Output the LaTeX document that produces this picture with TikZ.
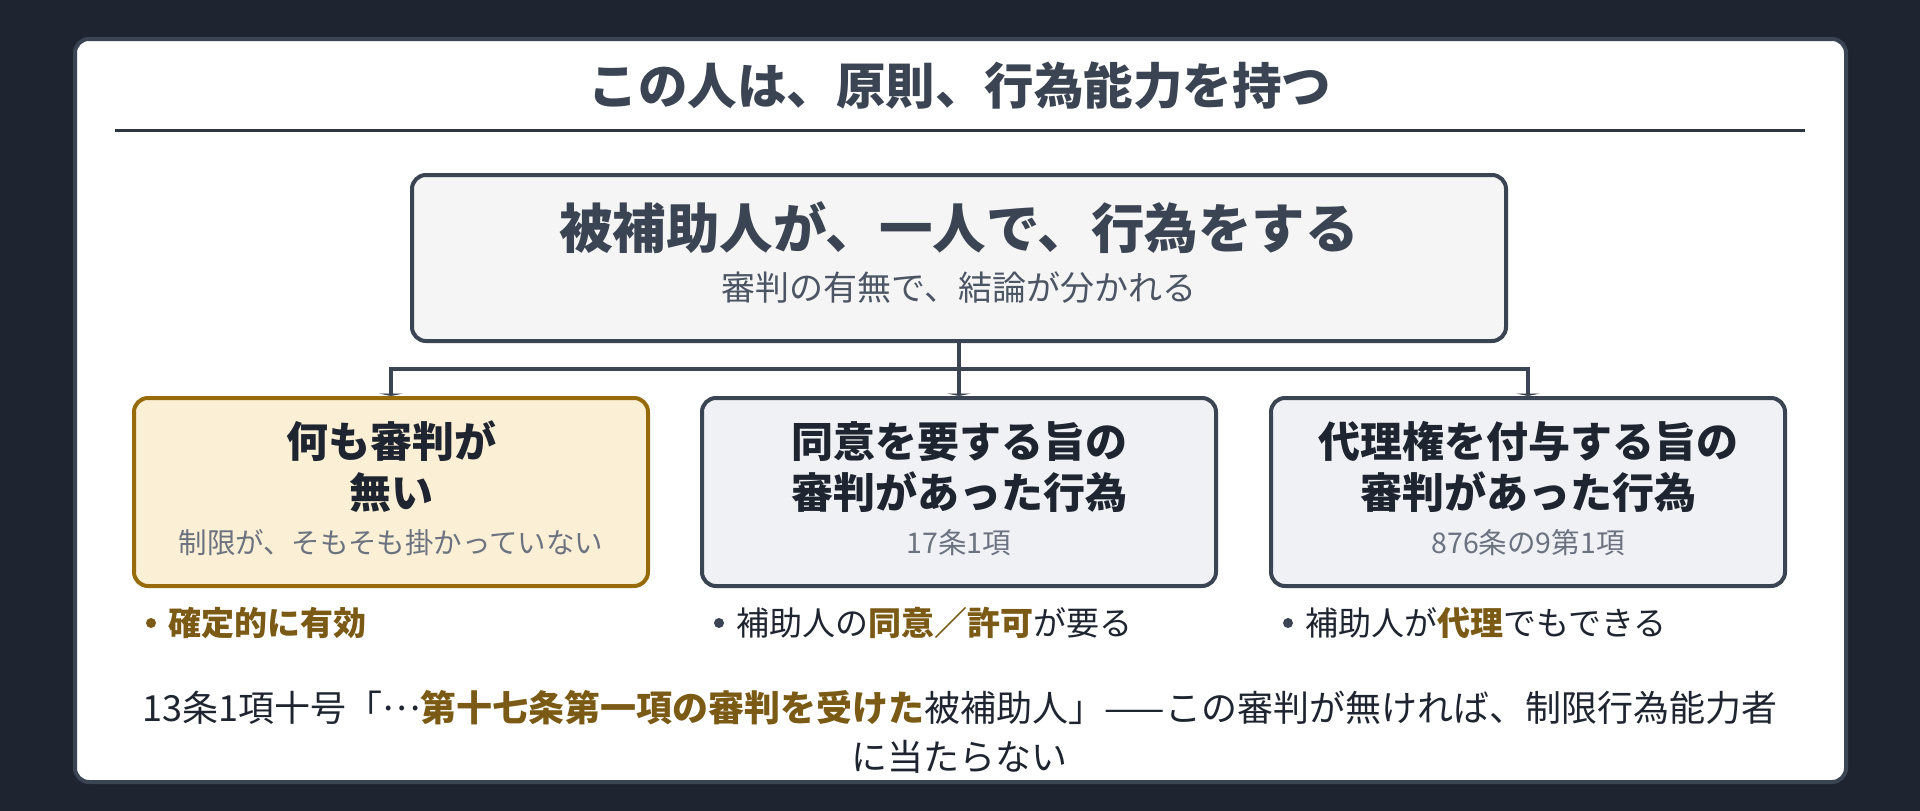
\documentclass[tikz,border=0pt]{standalone}
\usepackage{fontspec}
\setmainfont{Noto Sans CJK JP}
\usetikzlibrary{positioning,arrows.meta}

\definecolor{bgdark}{HTML}{1E2530}
\definecolor{slate}{HTML}{3B4452}
\definecolor{rulecol}{HTML}{2D3540}
\definecolor{topfill}{HTML}{F5F5F5}
\definecolor{boxfill}{HTML}{F0F1F5}
\definecolor{creamfill}{HTML}{FBEFD5}
\definecolor{creamline}{HTML}{976A0A}
\definecolor{gold}{HTML}{7A5A14}
\definecolor{inkdark}{HTML}{1F2530}
\definecolor{subgray}{HTML}{6B7280}
\definecolor{midgray}{HTML}{4B5563}

\newcommand{\hl}[1]{\textbf{\textcolor{gold}{#1}}}

\begin{document}
\begin{tikzpicture}[x=1pt,y=-1pt,
    box/.style={draw=slate, line width=4pt, rounded corners=14pt, inner sep=0pt,
      minimum width=514pt, minimum height=188pt, fill=boxfill},
    link/.style={draw=slate, line width=4pt},
    head/.style={text=inkdark, align=center, inner sep=0pt,
      font=\fontsize{42}{51}\selectfont\bfseries},
    note/.style={text=subgray, inner sep=0pt, font=\fontsize{28.5}{34}\selectfont},
    dotmark/.style={circle, inner sep=0pt, minimum size=10pt, fill=slate},
    point/.style={text=inkdark, inner sep=0pt, anchor=west, font=\fontsize{33}{40}\selectfont}]

  % background and card
  \fill[bgdark] (0,0) rectangle (1920,811);
  \draw[slate, line width=4pt, fill=white, rounded corners=14pt] (75,39) rectangle (1846,782);

  \node[text=slate, inner sep=0pt] (title) at (960,86)
    {\fontsize{49.5}{59}\selectfont\bfseries この人は、原則、行為能力を持つ};
  \draw[rulecol, line width=3pt] (115,130) -- (1805,130);

  % top box
  \node[box, fill=topfill, minimum width=1094pt, minimum height=166pt] (act) at (959,258) {};
  \node[text=slate, inner sep=0pt] (acttext) at (959,228)
    {\fontsize{53.5}{64}\selectfont\bfseries 被補助人が、一人で、行為をする};
  \node[text=midgray, inner sep=0pt] (actnote) at (959,288)
    {\fontsize{34}{40}\selectfont 審判の有無で、結論が分かれる};

  % three cases
  \node[box, draw=creamline, fill=creamfill] (nojudge) at (391,492) {};
  \node[box] (consent) at (959,492) {};
  \node[box] (agent) at (1528,492) {};

  \node[head] (nojudgetext) at (391,467) {何も審判が\\無い};
  \node[note] (nojudgenote) at (391,543) {制限が、そもそも掛かっていない};
  \node[head] (consenttext) at (959,467) {同意を要する旨の\\審判があった行為};
  \node[note] (consentnote) at (959,543) {17条1項};
  \node[head] (agenttext) at (1528,467) {代理権を付与する旨の\\審判があった行為};
  \node[note] (agentnote) at (1528,543) {876条の9第1項};

  % connectors
  \coordinate (fork) at (959,369);
  \draw[link] (act.south) -- (fork);
  \foreach \b in {nojudge,consent,agent}
    \draw[link, -{Triangle[length=2.5pt,width=24pt]}] (fork) -| (\b.north);

  % points under the boxes
  \node[dotmark, fill=gold] (dot1) at (151,623) {};
  \node[point, right=12pt of dot1] (point1) {\hl{確定的に有効}};
  \node[dotmark] (dot2) at (719,623) {};
  \node[point, right=12pt of dot2] (point2) {補助人の\hl{同意／許可}が要る};
  \node[dotmark] (dot3) at (1288,623) {};
  \node[point, right=12pt of dot3] (point3) {補助人が\hl{代理}でもできる};

  % law text
  \node[text=inkdark, align=center, inner sep=0pt, font=\fontsize{36}{49}\selectfont] (lawtext) at (960,732)
    {13条1項十号「\raisebox{0.3em}{…}\hl{第十七条第一項の審判を受けた}被補助人」——この審判が無ければ、制限行為能力者\\に当たらない};
\end{tikzpicture}
\end{document}
